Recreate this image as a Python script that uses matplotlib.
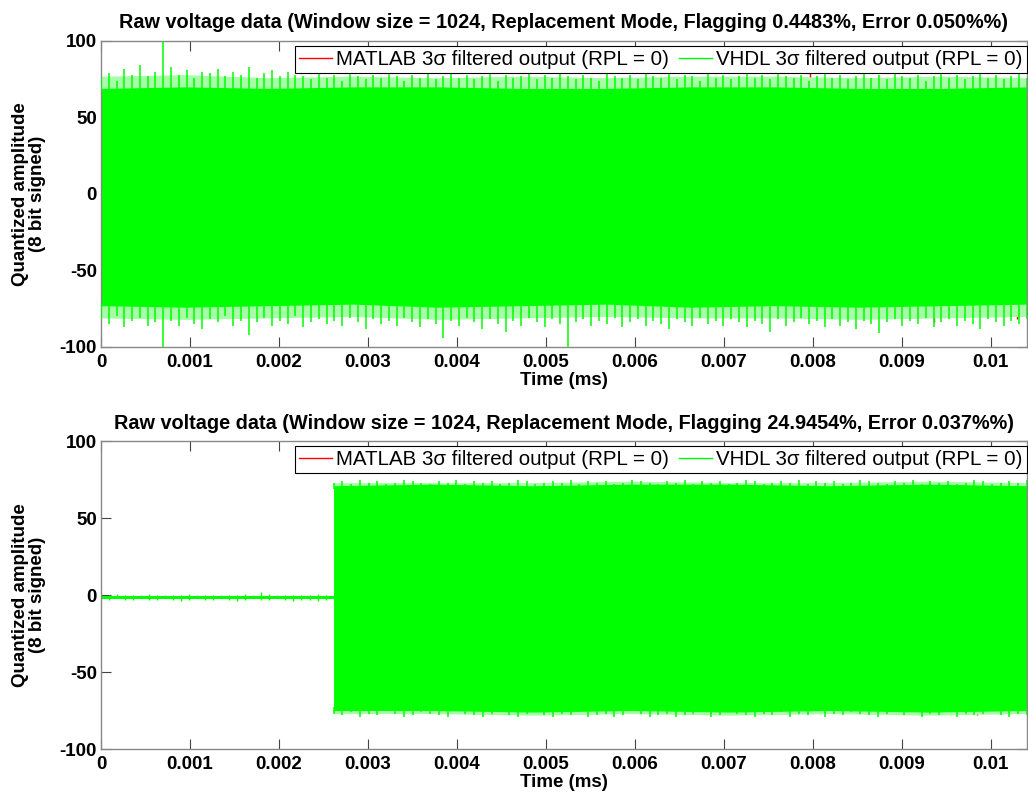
import numpy as np
import matplotlib
matplotlib.use("Agg")
import matplotlib.pyplot as plt
from matplotlib.lines import Line2D

plt.rcParams['font.family'] = ['Liberation Sans', 'DejaVu Sans']
plt.rcParams['axes.unicode_minus'] = False

# ---------------- data ----------------
T_END = 0.01041          # ms, right end of the record
T_SWITCH = 0.002615      # ms, start of the active part in the 2nd record

titles = [
    "Raw voltage data (Window size = 1024, Replacement Mode, Flagging 0.4483%, Error 0.050%%)",
    "Raw voltage data (Window size = 1024, Replacement Mode, Flagging 24.9454%, Error 0.037%%)",
]
x_ticks = [0, 0.001, 0.002, 0.003, 0.004, 0.005, 0.006, 0.007, 0.008, 0.009, 0.01]
x_ticklabels = ["0", "0.001", "0.002", "0.003", "0.004", "0.005", "0.006", "0.007", "0.008", "0.009", "0.01"]
y_ticks = [-100, -50, 0, 50, 100]
legend_labels = ["MATLAB 3\u03c3 filtered output (RPL = 0)", "VHDL 3\u03c3 filtered output (RPL = 0)"]

# record 1: positive / negative peak envelope (whole record)
rec1_peak_hi = [76, 79, 74, 82, 78, 84, 77, 80, 100, 83, 78, 81, 76, 80, 79, 82, 77, 80, 78, 83, 76, 79, 81, 77, 80, 78,
                77, 75, 79, 76, 78, 74, 80, 77, 75, 78, 76, 79, 77, 74, 78, 76, 80, 75, 77, 79,
                76, 78, 75, 77, 79, 74, 78, 76, 77, 80, 75, 78, 76, 79, 77, 75, 78, 76, 74, 79,
                77, 76, 78, 75, 80, 77, 76, 79, 75, 78, 77, 74, 79, 76, 78, 75, 77, 80, 76, 78,
                75, 79, 77, 76, 78, 74, 77, 79, 76, 78, 75, 77, 80, 76, 78, 75, 79, 77, 76, 78,
                74, 77, 79, 76, 78, 75, 77, 79, 76, 78, 75, 77, 79, 76]
rec1_peak_lo = [-82, -85, -80, -87, -83, -81, -86, -84, -100, -83, -86, -81, -85, -88, -82, -84, -80, -86, -83, -92,
                -84, -81, -86, -83, -85, -80, -87, -84, -82, -85, -83, -86, -81, -84, -88, -82, -85, -83, -86, -81,
                -84, -87, -82, -85, -94, -83, -86, -81, -84, -88, -82, -85, -90, -83, -86, -81, -84, -87, -82, -85,
                -100, -84, -82, -86, -83, -85, -81, -87, -84, -82, -86, -83, -85, -88, -82, -84, -86, -81, -85, -83,
                -86, -82, -84, -87, -83, -85, -90, -82, -86, -84, -81, -85, -83, -87, -82, -86, -84, -88, -83, -85,
                -91, -84, -82, -86, -83, -85, -81, -87, -84, -82, -86, -83, -85, -88, -82, -84, -86, -83, -85, -82]
rec1_core_hi = [69, 70, 69, 70, 70, 69, 69, 70, 70, 69, 69, 70]
rec1_core_lo = [-73, -74, -73, -72, -74, -73, -72, -74, -73, -74, -73, -72]
rec1_fringe_hi = [77, 78, 76, 77, 76, 77, 76, 77, 77, 76, 77, 76]
rec1_fringe_lo = [-81, -82, -81, -80, -82, -81, -80, -81, -81, -82, -81, -80]
# MATLAB-only samples (red) visible in record 1
rec1_red_t = [0.00038, 0.00125, 0.00403, 0.00797, 0.00850, 0.00936, 0.01030]
rec1_red_v = [-78, -80, -79, 80, 76, -84, -82]

# record 2: quiet part (before switch) and active part (after switch)
rec2a_hi = [0, 0, 1, 0, 0, 0, 1, 0, 0, 0, 0, 1, 0, 0, 0, 0, 0, 0, 1, 0, 2, 1, 0, 0, 0, 0, 0, 1, 0, 0]
rec2a_lo = [-3, -3, -2, -3, -3, -2, -3, -3, -2, -3, -4, -3, -2, -3, -3, -2, -3, -4, -3, -2,
            -3, -3, -2, -3, -4, -3, -3, -4, -3, -3]
rec2b_peak_hi = [73, 74, 72, 75, 73, 74, 72, 73, 75, 74, 73, 72, 74, 73, 75, 72, 74, 73, 74, 72,
                 73, 75, 74, 72, 73, 74, 73, 75, 72, 74, 73, 74, 72, 73, 75, 74, 73, 72, 74, 73,
                 75, 72, 74, 73, 74, 72, 73, 75, 74, 72, 73, 74, 73, 75, 72, 74, 73, 74, 72, 73,
                 75, 74, 73, 72, 74, 73, 75, 72, 74, 73, 74, 72, 73, 75, 74, 72, 73, 74, 73, 75]
rec2b_peak_lo = [-77, -78, -76, -79, -77, -78, -72, -77, -79, -78, -76, -77, -78, -79, -71, -77, -78, -79, -77, -76,
                 -78, -79, -77, -73, -78, -79, -77, -78, -76, -79, -78, -77, -79, -78, -74, -77, -79, -78, -77, -79,
                 -78, -77, -76, -79, -78, -72, -77, -78, -79, -77, -78, -76, -79, -77, -78, -73, -79, -77, -78, -76,
                 -77, -78, -79, -77, -76, -78, -74, -79, -77, -78, -76, -79, -77, -78, -77, -73, -78, -79, -77, -78]
rec2b_core_hi = [71, 72, 71, 72, 72, 71, 72, 71]
rec2b_core_lo = [-75, -75, -76, -75, -76, -75, -76, -75]
rec2b_fringe_hi = [73, 73, 73, 74, 73, 73, 74, 73]
rec2b_fringe_lo = [-77, -77, -78, -77, -78, -77, -78, -77]
rec2_red_t = [0.00263, 0.00730, 0.00985]
rec2_red_v = [-6, 73, -78]

GREEN = "#00ff00"
LIGHT = "#a6ffa6"
RED = "#ff0000"


def draw_band(ax, t0, t1, core_hi, core_lo, fr_hi, fr_lo, peak_hi, peak_lo):
    tc = np.linspace(t0, t1, len(core_hi))
    ax.fill_between(tc, fr_lo, fr_hi, color=LIGHT, lw=0, zorder=1.5)
    ax.fill_between(tc, core_lo, core_hi, color=GREEN, lw=0, zorder=2)
    tp = np.linspace(t0, t1, len(peak_hi))
    ch = np.interp(tp, tc, core_hi)
    ax.vlines(tp, ch - 2, peak_hi, color=GREEN, lw=1.1, zorder=3)
    tq = np.linspace(t0, t1, len(peak_lo))
    cl = np.interp(tq, tc, core_lo)
    ax.vlines(tq, np.array(peak_lo), cl + 2, color=GREEN, lw=1.1, zorder=3)


def style(ax, title):
    ax.set_xlim(0, T_END)
    ax.set_ylim(-100, 100)
    ax.set_xticks(x_ticks)
    ax.set_xticklabels(x_ticklabels)
    ax.set_yticks(y_ticks)
    ax.tick_params(direction='in', length=7, width=0.8, color='#444444', top=True, right=True,
                   labelsize=13.5)
    ax.tick_params(axis='x', pad=5)
    ax.tick_params(axis='y', pad=3)
    for lab in ax.get_xticklabels() + ax.get_yticklabels():
        lab.set_fontweight('bold')
    for sp in ax.spines.values():
        sp.set_color('#888888')
        sp.set_linewidth(1.0)
    ax.set_title(title, fontsize=14.3, fontweight='bold', pad=9)
    ax.set_xlabel("Time (ms)", fontsize=13.5, fontweight='bold', labelpad=1)
    ax.set_ylabel("Quantized amplitude\n(8 bit signed)", fontsize=13.5, fontweight='bold',
                  linespacing=1.0, labelpad=10)
    handles = [Line2D([], [], color=RED, lw=1.0), Line2D([], [], color=GREEN, lw=1.0)]
    leg = ax.legend(handles, legend_labels, ncol=2, loc='upper right', bbox_to_anchor=(1.0, 0.984),
                    borderaxespad=0, frameon=True, fancybox=False, framealpha=1, edgecolor='black',
                    prop={'size': 14.8}, handlelength=1.6, handletextpad=0.2, columnspacing=0.5,
                    borderpad=0.2)
    leg.get_frame().set_linewidth(0.8)
    leg.set_zorder(10)


fig = plt.figure(figsize=(10.28, 7.96), dpi=100)
ax1 = fig.add_axes([0.0982, 0.5641, 0.9008, 0.3844])
ax2 = fig.add_axes([0.0982, 0.0590, 0.9008, 0.3869])

# record 1
ax1.vlines(rec1_red_t, 0, rec1_red_v, color=RED, lw=1.0, zorder=1)
draw_band(ax1, 0, T_END, rec1_core_hi, rec1_core_lo, rec1_fringe_hi, rec1_fringe_lo,
          rec1_peak_hi, rec1_peak_lo)
style(ax1, titles[0])

# record 2
ax2.vlines(rec2_red_t, 0, rec2_red_v, color=RED, lw=1.0, zorder=1)
ta = np.linspace(0, T_SWITCH, len(rec2a_hi))
ax2.fill_between(ta, -2.6, -0.6, color=GREEN, lw=0, zorder=2)
ax2.vlines(ta, rec2a_lo, rec2a_hi, color=GREEN, lw=1.0, zorder=2)
draw_band(ax2, T_SWITCH, T_END, rec2b_core_hi, rec2b_core_lo, rec2b_fringe_hi, rec2b_fringe_lo,
          rec2b_peak_hi, rec2b_peak_lo)
style(ax2, titles[1])

fig.savefig("out.png", dpi=100)
